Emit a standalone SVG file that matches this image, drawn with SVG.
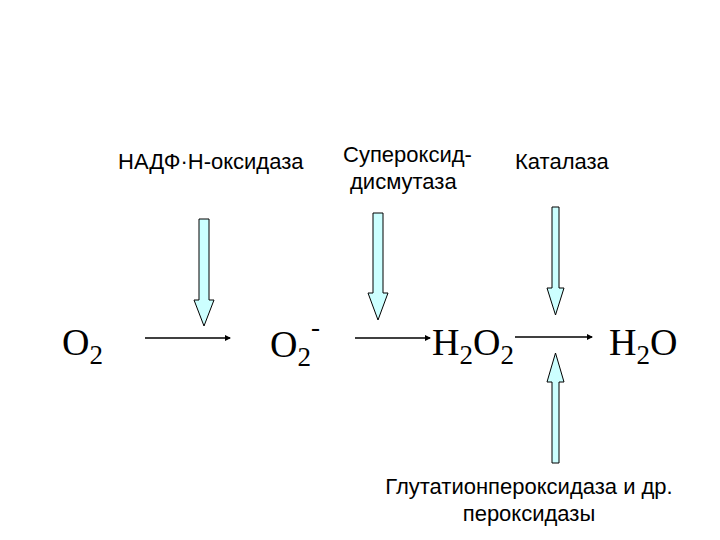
<svg xmlns="http://www.w3.org/2000/svg" width="720" height="540" viewBox="0 0 720 540">
<style>
.b{fill:#ccffff;stroke:#000;stroke-width:1}
.l{stroke:#000;stroke-width:1.5;fill:none}
.f{font-family:"Liberation Serif",serif;font-size:38px;fill:#000}
.s{font-family:"Liberation Sans",sans-serif;font-size:22px;fill:#000}
</style>
<defs><marker id="a" markerWidth="6" markerHeight="6" refX="5" refY="3" orient="auto" markerUnits="userSpaceOnUse"><path d="M0,0L6,3L0,6z" fill="#000"/></marker></defs>
<rect width="720" height="540" fill="#fff"/>
<g id="connectors">
<line class="l" x1="145" y1="338" x2="230" y2="338" marker-end="url(#a)"/>
<line class="l" x1="355" y1="338" x2="430" y2="338" marker-end="url(#a)"/>
<line class="l" x1="515" y1="337" x2="592" y2="337" marker-end="url(#a)"/>
<path class="b" d="M199,219H209V300H214L204,326L194,300H199Z"/>
<path class="b" d="M373,213H383V293H388L378,320L368,293H373Z"/>
<path class="b" d="M552,207H559V288H564L555.5,315L547,288H552Z"/>
<path class="b" d="M552,463H559V382H564L555.5,353L547,382H552Z"/>
</g>
<g id="o2"><text class="f" x="62" y="355">O<tspan font-size="27" dy="9">2</tspan></text></g>
<g id="o2m"><text class="f" x="270" y="357">O<tspan font-size="27" dy="9">2</tspan><tspan font-size="27" dy="-30">-</tspan></text></g>
<g id="h2o2"><text class="f" x="432" y="355">H<tspan font-size="27" dy="9">2</tspan><tspan dy="-9">O</tspan><tspan font-size="27" dy="9">2</tspan></text></g>
<g id="h2o"><text class="f" x="609" y="355">H<tspan font-size="27" dy="9">2</tspan><tspan dy="-9">O</tspan></text></g>
<g id="nadph"><text class="s" x="118" y="169">НАДФ·Н-оксидаза</text></g>
<g id="sod"><text class="s" x="343" y="162">Супероксид-</text><text class="s" x="350" y="189">дисмутаза</text></g>
<g id="cat"><text class="s" x="515" y="169">Каталаза</text></g>
<g id="gpx"><text class="s" x="529" y="494" text-anchor="middle">Глутатионпероксидаза и др.</text><text class="s" x="529" y="521" text-anchor="middle">пероксидазы</text></g>
</svg>
